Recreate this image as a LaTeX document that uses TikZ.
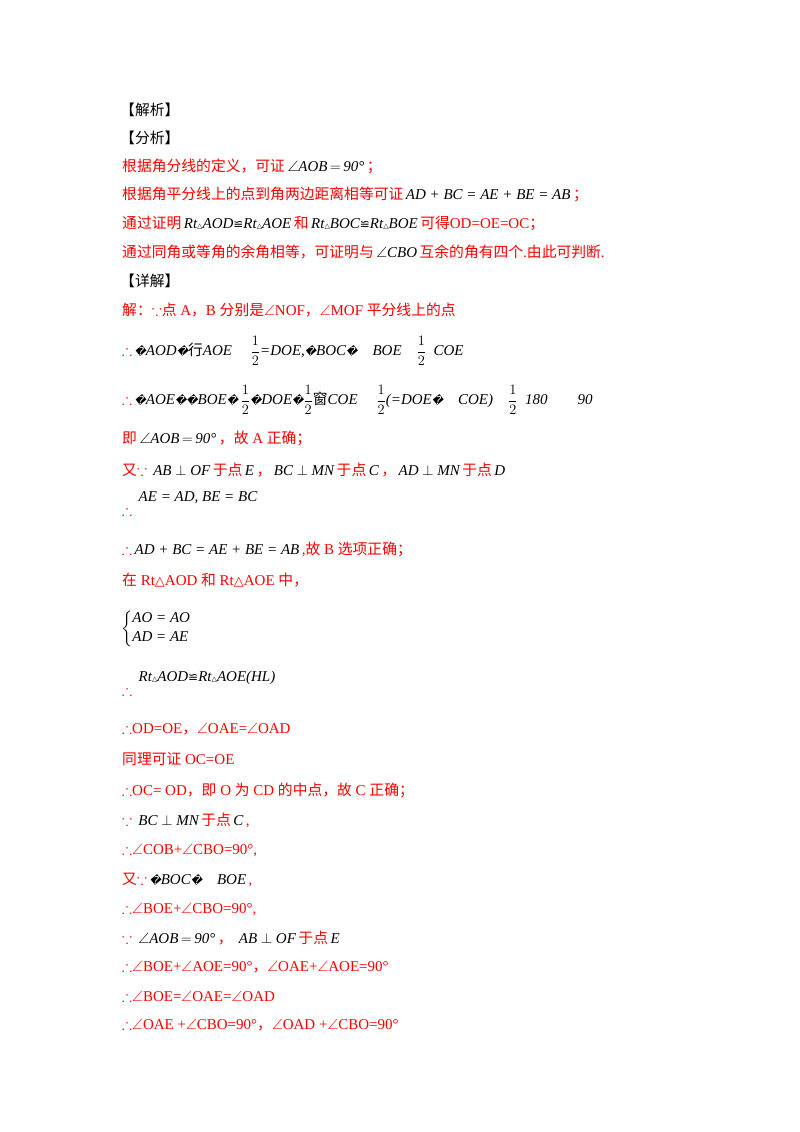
\documentclass[tikz,border=0pt]{standalone}
\usepackage{amsmath,amssymb}
\usepackage{fontspec}
\setmainfont{Liberation Serif}
\newfontfamily\cjk{Noto Sans CJK SC}
\newfontfamily\dvs{DejaVu Sans}
\newcommand\zh[1]{{\cjk\fontsize{14.8}{16}\selectfont #1}}
\newcommand\mm[1]{{\color{black}\itshape\,#1\,}}
\newcommand\qq{{\dvs\fontsize{11}{12}\selectfont\char"FFFD}}
\newcommand\fr{{\color{black}$\dfrac{1}{2}$}}
\newcommand\thf{$\therefore$}
\newcommand\bcs{$\because$}
\newcommand\ang{$\angle$}
\newcommand\cg{{\dvs\upshape\fontsize{12}{12}\selectfont ≌}}
\newcommand\tri{{\dvs\upshape\fontsize{7}{8}\selectfont △}}
\newcommand\btri{{\dvs\fontsize{13}{14}\selectfont △}}
\definecolor{rd}{RGB}{255,0,0}
\begin{document}
\begin{tikzpicture}[x=1pt,y=-1pt,every node/.style={anchor=west,inner sep=0pt,text=rd,font=\fontsize{15}{17}\selectfont}]
\useasboundingbox (0,0) rectangle (800,1132);
\node[text=black] (l1) at (120,110) {\zh{【解析】}};
\node[text=black] (l2) at (120,138) {\zh{【分析】}};
\node (l3) at (122,166) {\zh{根据角分线的定义，可证}\mm{\ang AOB\,$=$\,90°}\zh{；}};
\node (l4) at (122,194) {\zh{根据角平分线上的点到角两边距离相等可证}\mm{AD + BC = AE + BE = AB}\zh{；}};
\node (l5) at (122,223) {\zh{通过证明}\mm{Rt\tri AOD\cg Rt\tri AOE}\zh{和}\mm{Rt\tri BOC\cg Rt\tri BOE}\zh{可得}OD=OE=OC\zh{；}};
\node (l6) at (122,252) {\zh{通过同角或等角的余角相等，可证明与}\mm{\ang CBO}\zh{互余的角有四个}.\zh{由此可判断}.};
\node[text=black] (l7) at (120,281) {\zh{【详解】}};
\node (l8) at (122,310) {\zh{解：}\bcs\zh{点} A\zh{，}B \zh{分别是}\ang NOF\zh{，}\ang MOF \zh{平分线上的点}};
\node (l9) at (122,351) {\thf\mm{\qq AOD\qq \zh{行}AOE\quad\ \fr=DOE,\qq BOC\qq\quad BOE\quad\fr\ \ COE}};
\node (l10) at (122,400) {\thf\mm{\qq AOE\qq\qq BOE\qq\,\fr\qq DOE\qq\fr\zh{窗}COE\quad\ \fr(=DOE\qq\quad COE)\quad\fr\ \ 180\qquad 90}};
\node (l11) at (122,438) {\zh{即}\mm{\ang AOB\,$=$\,90°}\zh{，故} A \zh{正确；}};
\node (l12) at (122,470) {\zh{又}\bcs\ \mm{AB $\perp$ OF}\zh{于点}\mm{E}\zh{，}\mm{BC $\perp$ MN}\zh{于点}\mm{C}\zh{，}\mm{AD $\perp$ MN}\zh{于点}\mm{D}};
\node (l13) at (122,510) {\thf};
\node (l13b) at (136,498) {\mm{AE = AD, BE = BC}};
\node (l14) at (122,549) {\thf\mm{AD + BC = AE + BE = AB},\zh{故} B \zh{选项正确；}};
\node (l15) at (122,580) {\zh{在} Rt\btri AOD \zh{和} Rt\btri AOE \zh{中，}};
\node[text=black] (l16) at (121,629) {$\left\{\begin{array}{@{}l@{}}\text{\itshape AO = AO}\\[2pt] \text{\itshape AD = AE}\end{array}\right.$};
\node (l17) at (122,690) {\thf};
\node (l17b) at (136,678) {\mm{Rt\tri AOD\cg Rt\tri AOE(HL)}};
\node (l18) at (122,729) {\thf OD=OE\zh{，}\ang OAE=\ang OAD};
\node (l19) at (122,759) {\zh{同理可证} OC=OE};
\node (l20) at (122,790) {\thf OC= OD\zh{，即} O \zh{为} CD \zh{的中点，故} C \zh{正确；}};
\node (l21) at (122,820) {\bcs\ \mm{BC $\perp$ MN}\zh{于点}\mm{C},};
\node (l22) at (122,850) {\thf\ang COB+\ang CBO=90°,};
\node (l23) at (122,880) {\zh{又}\bcs\mm{\qq BOC\qq\quad BOE},};
\node (l24) at (122,909) {\thf\ang BOE+\ang CBO=90°,};
\node (l25) at (122,938) {\bcs\ \mm{\ang AOB\,$=$\,90°}\zh{，}\ \mm{AB $\perp$ OF}\zh{于点}\mm{E}};
\node (l26) at (122,967) {\thf\ang BOE+\ang AOE=90°\zh{，}\ang OAE+\ang AOE=90°};
\node (l27) at (122,996) {\thf\ang BOE=\ang OAE=\ang OAD};
\node (l28) at (122,1025) {\thf\ang OAE +\ang CBO=90°\zh{，}\ang OAD +\ang CBO=90°};
\end{tikzpicture}
\end{document}
